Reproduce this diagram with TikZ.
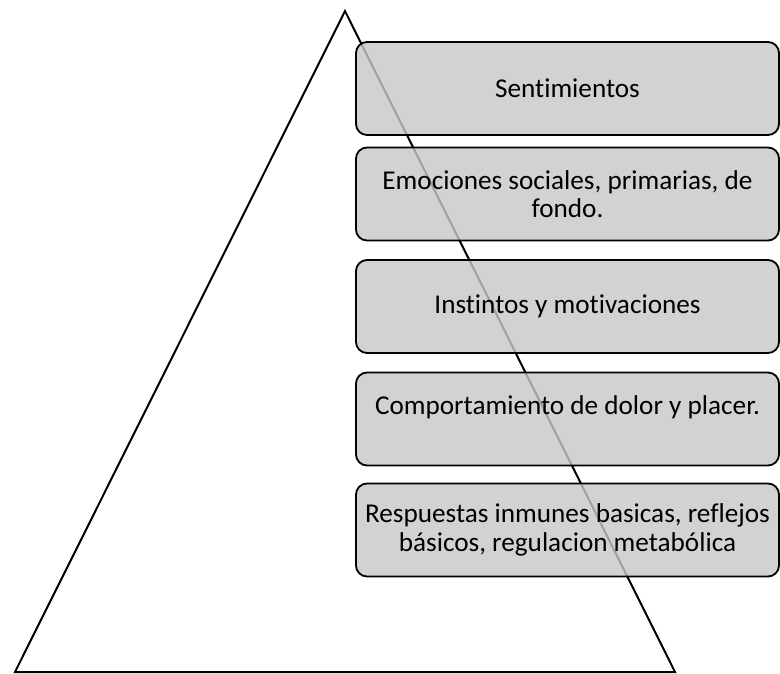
\documentclass[tikz,border=0pt]{standalone}
\usepackage{fontspec}
\setmainfont{Carlito}[Ligatures=NoCommon]
\begin{document}
\begin{tikzpicture}[x=1pt, y=-1pt]
    \tikzstyle{level}=[
        draw, rounded corners=11pt, line width=1.8pt,
        fill=black!22, fill opacity=0.8, text opacity=1,
        minimum width=423pt, minimum height=93pt, inner sep=2pt,
        align=center, font=\fontsize{27.2}{28.5}\selectfont]
    \tikzstyle{outline}=[line width=2pt, line join=miter]
    \useasboundingbox (0, 0) rectangle (780, 673);

    % the pyramid
    \coordinate (apex) at (345, 11);
    \coordinate (base-l) at (15, 672);
    \coordinate (base-r) at (675, 672);
    \draw [outline] (apex) -- (base-l) -- (base-r) -- cycle;

    % the levels, top to bottom
    \node [level] (L-1) at (567.5, 88.5) {Sentimientos};
    \node [level] (L-2) at (567.5, 194) {Emociones sociales, primarias, de\\ fondo.};
    \node [level] (L-3) at (567.5, 306.5) {Instintos y motivaciones};
    \node [level] (L-4) at (567.5, 419) {Comportamiento de dolor y placer.\\ \mbox{}};
    \node [level] (L-5) at (567.5, 530) {Respuestas inmunes basicas, reflejos\\ básicos, regulacion metabólica};
\end{tikzpicture}
\end{document}
